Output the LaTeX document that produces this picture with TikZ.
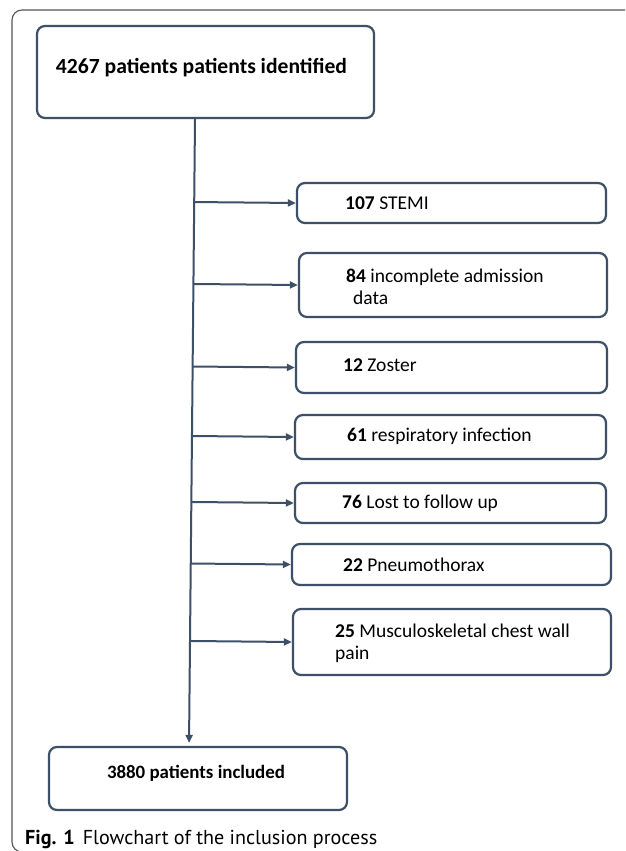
\documentclass[tikz,border=0pt]{standalone}
\usepackage{fontspec}
\usepackage{graphicx}
\setmainfont{Carlito}
\newfontfamily\capfont{PT Sans}
\usetikzlibrary{arrows.meta,calc}
\definecolor{boxline}{RGB}{62,80,104}
\definecolor{framegray}{RGB}{85,85,85}
\begin{document}
\begin{tikzpicture}[x=1pt,y=-1pt,
  box/.style={draw=boxline, line width=2.2pt, rounded corners=8pt, inner sep=0pt},
  lbl/.style={anchor=west, inner sep=0pt, font=\fontsize{19.5}{22}\selectfont, align=left},
  conn/.style={draw=boxline, line width=2pt, -{Triangle[length=8pt,width=7pt]}},
]
\useasboundingbox (0,0) rectangle (625,851);
\clip (0,0) rectangle (625,851);
\fill[white] (0,0) rectangle (625,851);
% outer frame
\draw[framegray, line width=1.1pt, rounded corners=10pt] (12,10) rectangle (645,852);

% main boxes
\node[box, minimum width=337pt, minimum height=92pt] (top) at (205.5,72) {};
\node[inner sep=0pt] (toptext) at (201.5,68) {\resizebox{291pt}{!}{\bfseries 4267 patients patients identified}};
\node[box, minimum width=298pt, minimum height=63pt] (bot) at (198,778.5) {};
\node[inner sep=0pt] (bottext) at (196,773) {\resizebox{178pt}{!}{\bfseries 3880 patients included}};

% exclusion boxes
\node[box, minimum width=309pt, minimum height=40pt] (b1) at (451.5,203) {};
\node[box, minimum width=308pt, minimum height=64pt] (b2) at (453,285) {};
\node[box, minimum width=311pt, minimum height=51pt] (b3) at (451.5,367.5) {};
\node[box, minimum width=311pt, minimum height=44pt] (b4) at (450.5,437) {};
\node[box, minimum width=311pt, minimum height=40pt] (b5) at (450.5,503) {};
\node[box, minimum width=319pt, minimum height=41pt] (b6) at (451.5,564.5) {};
\node[box, minimum width=318pt, minimum height=66pt] (b7) at (452,642) {};

\node[lbl] (t1) at (345,203) {\textbf{107} STEMI};
\node[lbl] (t2) at (346,287) {\textbf{84} incomplete admission\\\hspace*{7pt}data};
\node[lbl] (t3) at (343,365) {\textbf{12} Zoster};
\node[lbl] (t4) at (347,436) {\textbf{61} respiratory infection};
\node[lbl] (t5) at (342,503) {\textbf{76} Lost to follow up};
\node[lbl] (t6) at (343,565) {\textbf{22} Pneumothorax};
\node[lbl] (t7) at (335,643) {\textbf{25} Musculoskeletal chest wall\\pain};

% trunk (slightly slanted, as in the original)
\coordinate (tka) at (195,0);
\coordinate (tkb) at (189,0);
\coordinate (ta) at (top.south -| tka);
\coordinate (tb) at (bot.north -| tkb);
\draw[conn, shorten >=3pt] (ta) -- (tb);
\foreach \b in {b1,b2,b3,b4,b5,b6,b7}
  \draw[conn] ($(ta)!(\b.west)!(tb)$) -- (\b.west);

% caption
\node[anchor=base west, inner sep=0pt] (cap) at (25,844)
  {\resizebox{352pt}{!}{\capfont\textbf{Fig. 1}\hspace{0.4em}Flowchart of the inclusion process}};
\end{tikzpicture}
\end{document}
